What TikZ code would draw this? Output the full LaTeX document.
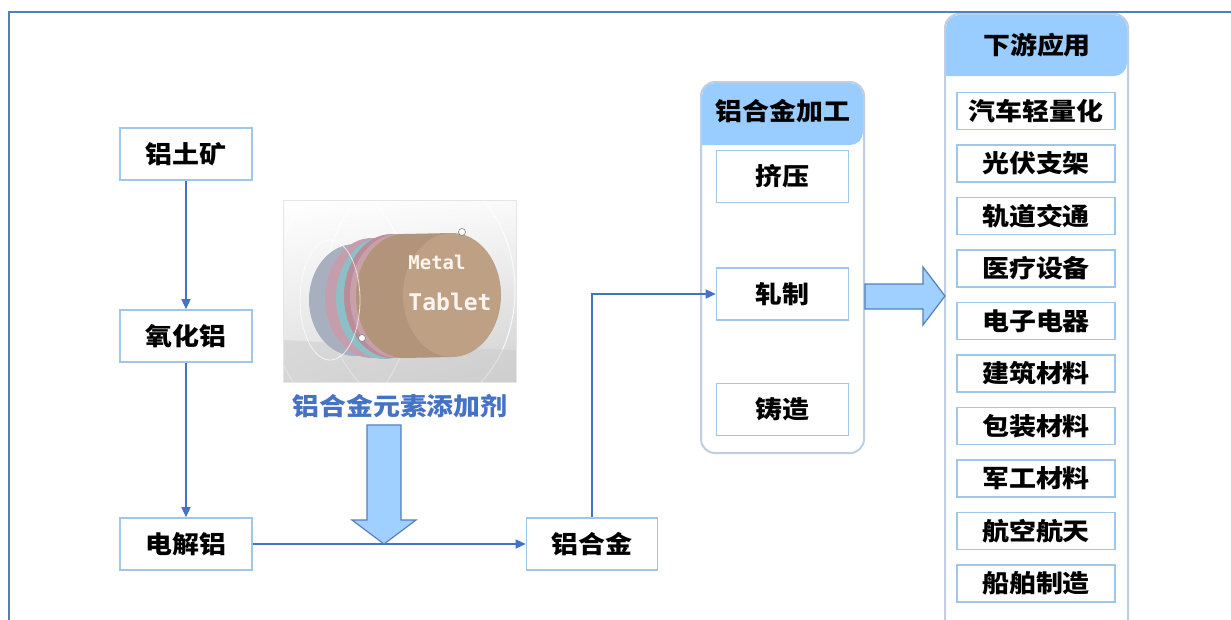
\documentclass[tikz,border=0pt]{standalone}
\usepackage{fontspec}
\usepackage{graphicx}
\setmainfont{Noto Sans CJK SC}
\newfontfamily\monof{DejaVu Sans Mono}
\usetikzlibrary{arrows.meta,shadings}
\newcommand\wtxt[1]{\scalebox{1.1}[1]{#1}}
\definecolor{framec}{RGB}{79,129,189}
\definecolor{boxc}{RGB}{160,198,232}
\definecolor{panelc}{RGB}{192,206,224}
\definecolor{headc}{RGB}{153,204,255}
\definecolor{connc}{RGB}{68,114,196}
\definecolor{bigc}{RGB}{160,208,255}
\definecolor{bigd}{RGB}{84,128,190}
\definecolor{labc}{RGB}{68,114,196}
\begin{document}
\begin{tikzpicture}[x=1pt,y=-1pt,
  txt/.style={font=\fontsize{24.5}{26}\selectfont\bfseries},
  procbox/.style={draw=boxc,line width=1.6pt,fill=white,minimum width=132pt,minimum height=52pt,inner sep=0pt,txt},
  appbox/.style={draw=boxc,line width=1.6pt,fill=white,minimum width=158pt,minimum height=37pt,inner sep=0pt,txt},
  panel/.style={draw=panelc,line width=2pt,fill=white},
  header/.style={fill=headc},
  conn/.style={draw=connc,line width=1.4pt,-{Triangle[length=10pt,width=9pt]}},
  bigarrow/.style={fill=bigc,draw=bigd,line width=1.2pt,line join=miter}
]
\useasboundingbox (0,0) rectangle (1231,619);
\clip (0,0) rectangle (1231,619);
\fill[white] (0,0) rectangle (1231,619);
% frame
\draw[framec,line width=2.6pt] (9,640) -- (9,12) -- (1250,12);

% left chain
\node[procbox] (bx) at (186,154) {\wtxt{铝土矿}};
\node[procbox] (ao) at (186,336) {\wtxt{氧化铝}};
\node[procbox] (el) at (186,544) {\wtxt{电解铝}};
\node[procbox,minimum width=131pt] (alloy) at (592,544) {\wtxt{铝合金}};

% picture of metal tablet
\begin{scope}
\clip (283,200) rectangle (516,382);
\shade[upper left=white,upper right=white!96!gray,lower left=black!12,lower right=black!18] (283,200) rectangle (516,382);
\draw[white,line width=1pt,opacity=0.8] (420,290) ellipse [x radius=95,y radius=120];
\draw[white,line width=1pt,opacity=0.8] (340,300) ellipse [x radius=70,y radius=110];
\fill[black!20,opacity=0.5] (283,340) -- (380,345) -- (516,350) -- (516,382) -- (283,382) -- cycle;
% discs
\fill[color={rgb,255:red,168;green,176;blue,192}] (355,300) ellipse [x radius=46,y radius=56];
\fill[color={rgb,255:red,196;green,158;blue,172}] (372,298) ellipse [x radius=47,y radius=60];
\fill[color={rgb,255:red,140;green,192;blue,198}] (384,298) ellipse [x radius=48,y radius=61];
\fill[color={rgb,255:red,186;green,140;blue,154}] (392,296) ellipse [x radius=48,y radius=62];
\fill[color={rgb,255:red,200;green,160;blue,170}] (398,296) ellipse [x radius=48,y radius=62];
\fill[color={rgb,255:red,178;green,148;blue,122}] (404,234) -- (452,233) -- (452,357) -- (404,358) -- cycle;
\fill[color={rgb,255:red,178;green,148;blue,122}] (404,296) ellipse [x radius=48,y radius=62];
\fill[color={rgb,255:red,190;green,160;blue,132}] (452,295) ellipse [x radius=49,y radius=62];
\draw[white,line width=0.8pt,opacity=0.7] (330,300) ellipse [x radius=30,y radius=60];
\node[text=white!92!brown,font=\monof\bfseries\fontsize{19}{20}\selectfont] (mt1) at (437,262) {Metal};
\node[text=white!92!brown,font=\monof\bfseries\fontsize{23}{24}\selectfont] (mt2) at (450,302) {Tablet};
\fill[white,draw=gray,line width=0.6pt] (462,232) circle (3.5);
\fill[white,draw=gray,line width=0.6pt] (362,338) circle (3.5);
\end{scope}
\node[draw=black!10,line width=0.8pt,minimum width=233pt,minimum height=182pt,inner sep=0pt] (img) at (399.5,291) {};
\node[txt,text=labc] (lab) at (400,406) {\wtxt{铝合金元素添加剂}};

% panel 1
\draw[panel,rounded corners=14pt] (701,453) -- (701,82) -- (864,82) -- (864,453) -- cycle;
\fill[header,rounded corners=13pt] (702,145) -- (702,83) -- (863,83) -- (863,145) [sharp corners] -- cycle;
\node[txt] (t1) at (783,111) {\wtxt{铝合金加工}};
\node[procbox] (ex) at (782.5,176.5) {\wtxt{挤压}};
\node[procbox] (ro) at (782.5,294) {\wtxt{轧制}};
\node[procbox] (ca) at (782.5,409.5) {\wtxt{铸造}};

% panel 2
\draw[panel,rounded corners=14pt] (945,700) -- (945,14) -- (1128,14) -- (1128,700);
\fill[header,rounded corners=13pt] (946,76) -- (946,15) -- (1127,15) -- (1127,76) [sharp corners] -- cycle;
\node[txt] (t2) at (1037,45) {\wtxt{下游应用}};
\node[appbox] (a1) at (1036,111) {\wtxt{汽车轻量化}};
\node[appbox] (a2) at (1036,163.5) {\wtxt{光伏支架}};
\node[appbox] (a3) at (1036,216) {\wtxt{轨道交通}};
\node[appbox] (a4) at (1036,268.5) {\wtxt{医疗设备}};
\node[appbox] (a5) at (1036,321) {\wtxt{电子电器}};
\node[appbox] (a6) at (1036,373.5) {\wtxt{建筑材料}};
\node[appbox] (a7) at (1036,426) {\wtxt{包装材料}};
\node[appbox] (a8) at (1036,478.5) {\wtxt{军工材料}};
\node[appbox] (a9) at (1036,531) {\wtxt{航空航天}};
\node[appbox] (a10) at (1036,583.5) {\wtxt{船舶制造}};

% connectors
\draw[conn] (bx) -- (ao);
\draw[conn] (ao) -- (el);
\draw[conn] (el) -- (alloy);
\draw[conn] (alloy.north) |- (ro.west);

% big arrows
\draw[bigarrow] (367,425) -- (401,425) -- (401,520) -- (416,520) -- (384,544) -- (352,520) -- (367,520) -- cycle;
\draw[bigarrow] (865,284) -- (923,284) -- (923,267) -- (945,296) -- (923,325) -- (923,309) -- (865,309) -- cycle;
\end{tikzpicture}
\end{document}
